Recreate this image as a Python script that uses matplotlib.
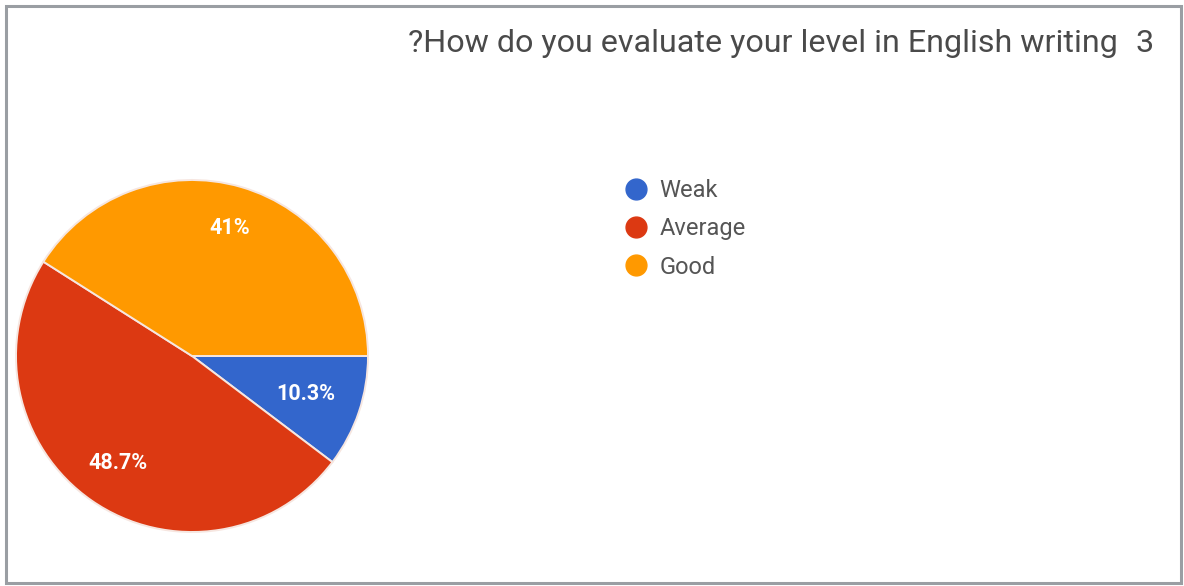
import matplotlib
matplotlib.use("Agg")
import matplotlib.pyplot as plt
import numpy as np
from matplotlib.patches import Rectangle
from matplotlib.lines import Line2D

categories = ["Weak", "Average", "Good"]
shares = [10.3, 48.7, 41.0]
slice_labels = ["10.3%", "48.7%", "41%"]
colors = ["#3366cc", "#dc3912", "#ff9900"]
title = "?How do you evaluate your level in English writing"
question_no = "3"

W, H = 1184, 586
fig = plt.figure(figsize=(W / 100, H / 100), dpi=100)
fig.patch.set_facecolor("white")

# outer frame
fig.patches.append(Rectangle((6 / W, 3 / H), 1175 / W, 577 / H,
                             transform=fig.transFigure, fill=False,
                             edgecolor="#9a9ea3", linewidth=2.2))

# pie axes: center (192, 356) px, radius 176 px
cx, cy, r = 192, 356, 176
ax = fig.add_axes([(cx - r) / W, (H - cy - r) / H, 2 * r / W, 2 * r / H])
wedges, _ = ax.pie(shares, colors=colors, startangle=0, counterclock=False,
                   radius=1.0,
                   wedgeprops=dict(edgecolor="#f6e6e0", linewidth=1.4))
ax.set_xlim(-1, 1)
ax.set_ylim(-1, 1)
ax.set_aspect("auto")
ax.axis("off")

start = 0.0
dists = [0.68, 0.74, 0.76]
for w, lab, d in zip(shares, slice_labels, dists):
    mid = np.deg2rad(start - w * 3.6 / 2)
    start -= w * 3.6
    ax.text(d * np.cos(mid), d * np.sin(mid), lab, ha="center", va="center",
            color="white", fontsize=15.5, fontfamily="Roboto", fontweight="bold")

# title
fig.text(1118 / W, 1 - 44 / H, title, ha="right", va="center",
         fontsize=23.2, fontfamily="Roboto", color="#4a4a4a")
fig.text(1154 / W, 1 - 44 / H, question_no, ha="right", va="center",
         fontsize=23.2, fontfamily="Roboto", color="#4a4a4a")

# legend
handles = [Line2D([0], [0], marker="o", linestyle="none", markersize=15,
                  markerfacecolor=c, markeredgecolor=c) for c in colors]
leg = fig.legend(handles, categories, loc="upper left",
                 bbox_to_anchor=(605 / W, 1 - 160 / H), frameon=False,
                 handletextpad=0.5, labelspacing=0.65, handlelength=1.0,
                 borderpad=0.3,
                 prop=dict(family="Roboto", size=17))
for t in leg.get_texts():
    t.set_color("#555555")

fig.savefig("out.png", dpi=100, facecolor="white")
